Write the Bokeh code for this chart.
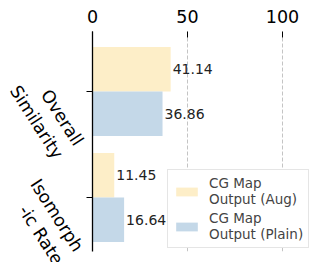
from bokeh.plotting import figure
from bokeh.models import Range1d, FixedTicker, Legend, LegendItem, ColumnDataSource
from bokeh.transform import dodge
from bokeh.embed import file_html
from bokeh.resources import INLINE
from bokeh.core.properties import value

categories = ["Overall\nSimilarity", "Isomorph\n-ic Rate"]
aug = [41.14, 11.45]
plain = [36.86, 16.64]
series_names = ["CG Map\nOutput (Aug)", "CG Map\nOutput (Plain)"]
x_ticks = [0, 50, 100]
grid_ticks = [50, 100]

pos = list(range(len(categories)))
src = ColumnDataSource(dict(
    y=pos, cat=categories, zero=[0] * len(pos), aug=aug, plain=plain,
    aug_txt=[f"{v:.2f}" for v in aug],
    plain_txt=[f"{v:.2f}" for v in plain],
))

FONT = "DejaVu Sans"
AUG_C = "#fdeec8"
PLAIN_C = "#c4d8e8"

p = figure(width=312, height=262, output_backend="svg", toolbar_location=None,
           x_range=Range1d(0, 115.8), y_range=Range1d(1.509, -0.566),
           x_axis_location="above",
           min_border_left=92, min_border_top=31, min_border_bottom=11, min_border_right=0)

r1 = p.hbar(y=dodge("y", -0.21), right="aug", left=0, height=0.42, source=src,
            fill_color=AUG_C, line_color=None)
r2 = p.hbar(y=dodge("y", 0.21), right="plain", left=0, height=0.42, source=src,
            fill_color=PLAIN_C, line_color=None)

p.text(x="aug", y=dodge("y", -0.21), text="aug_txt", source=src, x_offset=2,
       text_baseline="middle", text_align="left", text_font_size="14px",
       text_font=value(FONT), text_color="#222222")
p.text(x="plain", y=dodge("y", 0.21), text="plain_txt", source=src, x_offset=2,
       text_baseline="middle", text_align="left", text_font_size="14px",
       text_font=value(FONT), text_color="#222222")

# category labels, rotated
p.text(x="zero", y="y", text="cat", source=src, x_offset=-5, y_offset=47,
       angle=-1.0, text_align="right", text_baseline="top",
       text_font_size="17.5px", text_font=value(FONT), text_color="black",
       text_line_height=1.2, level="overlay")

# x axis (top)
xa = p.xaxis[0]
xa.ticker = FixedTicker(ticks=x_ticks)
xa.axis_line_color = None
xa.major_tick_in = 6
xa.major_tick_out = 0
xa.minor_tick_line_color = None
xa.major_tick_line_color = "black"
xa.major_label_text_font = FONT
xa.major_label_text_font_size = "17.5px"
xa.major_label_text_color = "black"
xa.major_label_standoff = 9

# y axis
ya = p.yaxis[0]
ya.ticker = FixedTicker(ticks=pos)
ya.major_label_overrides = {i: "" for i in pos}
ya.axis_line_color = "black"
ya.axis_line_width = 1.3
ya.major_tick_out = 6
ya.major_tick_in = 0
ya.minor_tick_line_color = None

p.xgrid.ticker = FixedTicker(ticks=grid_ticks)
p.xgrid.grid_line_color = "#c4c4c4"
p.xgrid.grid_line_dash = "4 2"
p.xgrid.grid_line_width = 1
p.ygrid.visible = False
p.outline_line_color = None

legend = Legend(items=[LegendItem(label=series_names[0], renderers=[r1]),
                       LegendItem(label=series_names[1], renderers=[r2])],
                location=(75, 3))
legend.label_text_font = FONT
legend.label_text_font_size = "13.5px"
legend.label_text_line_height = 1.25
legend.glyph_width = 27
legend.glyph_height = 11
legend.padding = 5
legend.spacing = 3
legend.label_standoff = 9
legend.margin = 0
legend.border_line_color = "#cccccc"
legend.background_fill_alpha = 1
p.add_layout(legend)

open("out.html", "w").write(file_html(p, INLINE))
